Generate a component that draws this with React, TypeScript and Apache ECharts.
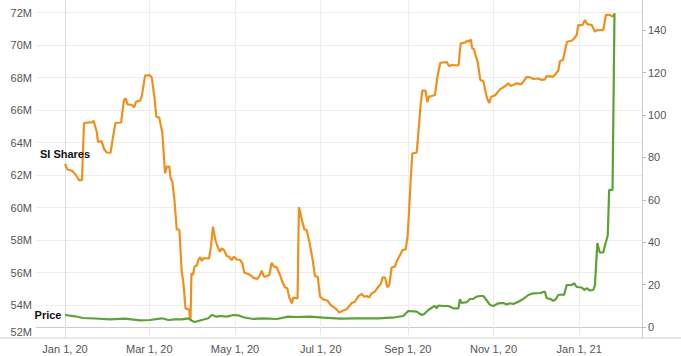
import React, { useEffect, useRef } from "react";
import * as echarts from "echarts";

// Days counted from Jan 1, 2020
const siDays = [0,1.8,5,7.8,10,12.1,13.5,19.7,20.3,22.6,23.5,26,27.8,29.9,32.4,34.4,35.9,39.9,42,43.2,44.5,47.7,49.3,50.5,53.4,54.6,57,60.1,61.7,63.6,65,67.1,69.3,71.2,72.4,74.2,75.2,76.4,77.9,79.5,81.4,83.1,84.2,85.8,88.3,89.3,90,91.1,92.2,94,94.9,96.1,97.3,98.4,102.5,103.9,105.3,107.1,109.1,110.3,111.5,113.2,115.1,116.7,118.6,120.3,122.2,124.6,126.2,127.6,130.5,132.9,134,135.2,136.9,138.8,140,141.6,143.6,145.4,147.1,148.8,150.7,153,154.7,156.6,158.2,159.6,161.4,162.5,165.5,166.5,168.5,170.3,172,173.9,176.3,177.9,179.9,181.5,183.8,186.7,189.1,191.5,193.8,195.2,197.6,200.5,204,206.4,208.8,211.2,213,214.7,216.4,218.3,220.6,223,224.7,226.1,227.8,229.4,230.8,232.5,234.9,236.5,239.1,240.1,242.5,243.8,244.8,245.9,247.2,250.3,251.5,253.2,254.3,256.6,257.9,259.2,261,263.3,265,267.1,271.7,273.5,275.2,280.1,281.6,284.7,286.3,287.8,288.8,289.8,291.1,292.5,293.7,295.6,297.7,300.4,302,303.3,306,309.6,312,314.4,315.5,317.2,319.1,321.5,324.6,326.2,328.5,331,333.3,336.9,339.3,341.6,342.8,347.5,349.3,351.1,352.3,354.4,357.3,360.9,363,364.2,365.3,368.3,370.1,371.7,374.9,377.2,378.6,383.1,385,387.9,389.5,391];

// SI shares, millions
const siShares = [62.68,62.34,62.26,62.0,61.69,61.69,65.2,65.26,65.35,64.66,64.03,64.09,63.6,63.37,63.37,64.46,65.2,65.23,66.62,66.72,66.35,66.31,66.17,66.51,66.58,66.82,68.12,68.15,68.01,66.82,65.59,65.53,64.57,62.1,62.52,62.52,61.8,61.59,60.46,58.66,58.62,56.03,55.42,53.78,53.72,53.02,55.95,55.85,56.36,56.46,56.77,56.95,56.71,56.87,56.87,57.59,58.82,57.97,57.49,57.28,57.49,57.38,57.02,56.97,56.77,56.97,56.8,56.77,56.57,55.99,55.91,55.78,55.68,55.64,55.6,55.85,56.11,55.74,55.78,55.85,56.6,56.36,56.32,55.85,55.43,55.09,55.03,54.47,54.1,54.46,54.4,60.01,59.27,58.66,58.62,57.9,56.77,55.78,55.74,54.51,54.35,54.28,54.0,53.86,53.69,53.53,53.65,53.74,54.12,54.2,54.55,54.68,54.51,54.55,54.47,54.72,54.82,55.13,55.29,55.7,55.7,55.09,55.23,56.31,56.38,56.77,57.18,57.38,57.43,58.22,59.64,61.49,63.34,63.37,64.57,66.41,67.19,67.19,66.49,66.84,66.86,66.92,68.0,68.91,68.95,68.69,68.77,68.74,70.1,70.15,70.26,70.22,70.35,69.8,69.74,69.28,68.97,67.85,67.78,66.72,66.43,66.82,66.89,67.27,67.4,67.54,67.64,67.48,67.54,67.64,67.58,67.74,68.03,68.01,67.91,67.94,67.85,67.89,68.09,68.06,68.22,68.43,69.02,69.08,70.2,70.28,70.46,70.62,71.23,71.23,71.54,71.29,71.23,70.82,70.92,70.92,71.85,71.85,71.74,71.91];

const priceDays = [0,7.1,12.8,21.4,32,42.7,53.4,60.5,68.8,73.5,78.3,83.1,87.8,90.2,92.5,96.1,102,104.4,108,110.3,115.1,119.8,123.4,126.9,134,141.1,150.7,158.9,164.9,174.4,183.8,195.7,207.6,217.1,223,234.9,240.8,244.3,250.3,253.9,255.7,258.6,261.4,263.3,264.6,265.7,269.3,272.8,276.4,280,281.1,282.3,285.9,288.3,290.6,293,295.4,297.7,300.2,302.5,304.9,308.4,312,314.4,316.7,319.1,322.6,326.2,329.8,333.3,338.1,341.6,342.8,345.2,347.5,349.3,351.1,353.5,355.2,357.1,360.6,362.5,364.2,367.8,369.6,371.3,373.7,376,377.2,378.9,380.6,383.1,384.3,386.3,387.3,389.7,391.1];

const prices = [5.66,5.05,4.25,4.0,3.63,3.92,3.16,3.3,4.1,3.3,3.63,3.63,4.1,2.97,2.36,3.07,4.1,5.66,4.86,5.19,4.86,5.66,5.52,4.58,3.77,4.1,3.77,4.86,4.72,4.86,4.39,3.92,4.1,4.1,4.1,4.58,5.19,7.55,7.22,5.66,6.13,8.02,9.29,9.91,8.82,10.14,9.91,9.91,8.82,8.82,13.07,11.32,11.7,13.21,13.3,14.29,14.62,14.62,12.5,10.38,9.91,11.18,11.32,10.61,11.18,10.85,11.93,13.21,15.09,15.9,16.04,16.65,13.54,13.3,12.41,13.07,15.09,15.33,15.09,19.81,19.81,20.61,18.87,18.63,17.45,18.25,17.22,17.45,19.81,39.62,35.14,35.14,38.44,43.16,64.62,64.62,147.97];

const tickDays = [0, 60, 121, 182, 244, 305, 366];
const tickLabels = ["Jan 1, 20", "Mar 1, 20", "May 1, 20", "Jul 1, 20", "Sep 1, 20", "Nov 1, 20", "Jan 1, 21"];
const siTicks = [52, 54, 56, 58, 60, 62, 64, 66, 68, 70, 72];
const priceTicks = [0, 20, 40, 60, 80, 100, 120, 140];

const FONT = "Arial, 'Liberation Sans', Helvetica, sans-serif";
const ORANGE = "#f0901c";
const GREEN = "#5ca236";

export default function App() {
  const ref = useRef<HTMLDivElement>(null);

  useEffect(() => {
    if (!ref.current) return;
    const chart = echarts.init(ref.current, null, { renderer: "svg" });
    const n1 = Math.min(siDays.length, siShares.length);
    const n2 = Math.min(priceDays.length, prices.length);
    const siData = [];
    for (let i = 0; i < n1; i++) siData.push([siDays[i], siShares[i]]);
    const priceData = [];
    for (let i = 0; i < n2; i++) priceData.push([priceDays[i], prices[i]]);

    chart.setOption({
      animation: false,
      backgroundColor: "#ffffff",
      grid: { left: 36, right: 39, top: 0, bottom: 18, containLabel: false },
      xAxis: {
        type: "value",
        min: -20.64,
        max: 410.68,
        axisLine: { show: true, lineStyle: { color: "#cccccc", width: 1 } },
        axisTick: { show: true, customValues: tickDays, length: 4, lineStyle: { color: "#e3e3e3" } },
        axisLabel: {
          customValues: tickDays,
          formatter: (v: number) => {
            const k = tickDays.indexOf(Math.round(v));
            return k >= 0 ? tickLabels[k] : "";
          },
          color: "#555555",
          fontSize: 11,
          fontFamily: FONT,
          margin: 5,
        },
        splitLine: { show: true, lineStyle: { color: "#ededed", width: 1 } },
      },
      yAxis: [
        {
          type: "value",
          position: "left",
          min: 51.97,
          max: 72.77,
          axisLine: { show: true, lineStyle: { color: "#dddddd" } },
          axisTick: { show: false, customValues: siTicks },
          axisLabel: {
            customValues: siTicks,
            formatter: (v: number) => {
              const r = Math.round(v);
              return r === siTicks[0] ? `{low|${r}M}` : `${r}M`;
            },
            rich: {
              low: {
                color: "#555555",
                fontSize: 11,
                fontFamily: FONT,
                padding: [0, 0, 12, 0],
              },
            },
            color: "#555555",
            fontSize: 11,
            fontFamily: FONT,
            margin: 4,
          },
          splitLine: { show: true, lineStyle: { color: "#ededed", width: 1 } },
        },
        {
          type: "value",
          position: "right",
          min: -5.19,
          max: 154.2,
          axisLine: { show: true, lineStyle: { color: "#cccccc" } },
          axisTick: { show: true, customValues: priceTicks, length: 4, lineStyle: { color: "#bbbbbb" } },
          axisLabel: {
            customValues: priceTicks,
            formatter: (v: number) => `${Math.round(v)}`,
            color: "#555555",
            fontSize: 11,
            fontFamily: FONT,
            margin: 6,
          },
          splitLine: { show: false },
        },
      ],
      graphic: [
        {
          type: "line",
          shape: { x1: 0, y1: 338, x2: 681, y2: 338 },
          style: { stroke: "#cccccc", lineWidth: 1 },
          silent: true,
        },
      ],
      series: [
        {
          type: "line",
          name: "SI Shares",
          yAxisIndex: 0,
          data: siData,
          showSymbol: false,
          symbol: "none",
          lineStyle: { color: ORANGE, width: 2.2 },
          itemStyle: { color: ORANGE },
          z: 2,
          markPoint: {
            symbol: "circle",
            symbolSize: 1,
            itemStyle: { color: "transparent" },
            data: [
              {
                coord: [siDays[0], siShares[0]],
                label: {
                  show: true,
                  position: "top",
                  distance: 4,
                  formatter: "SI Shares",
                  color: "#111111",
                  fontWeight: "bold",
                  fontSize: 11,
                  fontFamily: FONT,
                },
              },
            ],
          },
        },
        {
          type: "line",
          name: "Price",
          yAxisIndex: 1,
          data: priceData,
          showSymbol: false,
          symbol: "none",
          lineStyle: { color: GREEN, width: 2.2 },
          itemStyle: { color: GREEN },
          z: 3,
          markPoint: {
            symbol: "circle",
            symbolSize: 1,
            itemStyle: { color: "transparent" },
            data: [
              {
                coord: [priceDays[0], prices[0]],
                label: {
                  show: true,
                  position: "left",
                  distance: 3,
                  formatter: "Price",
                  color: "#111111",
                  fontWeight: "bold",
                  fontSize: 11,
                  fontFamily: FONT,
                },
              },
            ],
          },
        },
      ],
    });

    return () => {
      chart.dispose();
    };
  }, []);

  return (
    <div
      ref={ref}
      style={{ position: "fixed", left: 0, top: 0, width: 681, height: 356, background: "#fff" }}
    />
  );
}
